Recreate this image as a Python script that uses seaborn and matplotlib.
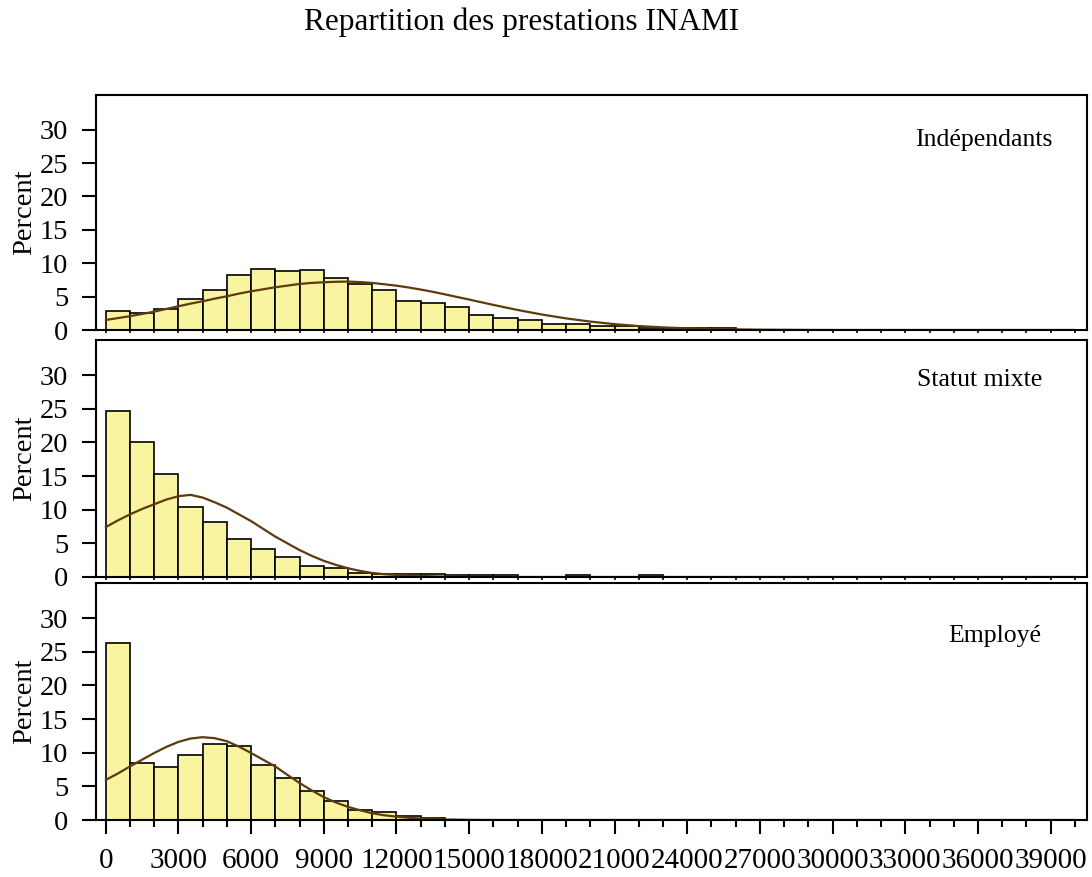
import numpy as np
import matplotlib
matplotlib.use("Agg")
import matplotlib.pyplot as plt
import seaborn as sns

# ---------------- data (percent per 1000-wide class, classes 0..39000) ----------------
bin_edges = list(range(0, 41000, 1000))

independants_pct = [2.8, 2.5, 3.1, 4.7, 5.95, 8.2, 9.1, 8.8, 9.05, 7.8,
                    6.9, 5.95, 4.4, 4.1, 3.4, 2.2, 1.85, 1.5, 0.95, 0.85,
                    0.55, 0.55, 0.3, 0.3, 0.35, 0.35, 0.05, 0.03, 0.02, 0.02,
                    0.01, 0.01, 0, 0, 0, 0, 0, 0, 0, 0.01]

mixte_pct = [24.7, 20.05, 15.35, 10.4, 8.15, 5.7, 4.2, 2.9, 1.7, 1.35,
             0.65, 0.45, 0.4, 0.4, 0.3, 0.3, 0.3, 0.05, 0.02, 0.35,
             0.05, 0.05, 0.35, 0.05, 0.02, 0.05, 0.05, 0.02, 0.02, 0.05,
             0.05, 0, 0, 0, 0, 0, 0, 0, 0, 0]

employe_pct = [26.35, 8.45, 7.8, 9.7, 11.3, 11.0, 8.1, 6.2, 4.35, 2.75,
               1.5, 1.25, 0.6, 0.35, 0.05, 0.02, 0.02, 0.05, 0.02, 0.05,
               0.05, 0.05, 0.02, 0.02, 0.02, 0.02, 0.02, 0.02, 0.02, 0.05,
               0, 0, 0, 0, 0, 0, 0, 0, 0, 0]

# fitted normal curves (every 500 up to 16000, then every 1000)
curve_x = list(range(0, 16500, 500)) + list(range(17000, 41000, 1000))
independants_curve = [1.5, 1.78, 2.07, 2.4, 2.75, 3.15, 3.55, 3.95, 4.3, 4.7,
                      5.05, 5.45, 5.8, 6.1, 6.4, 6.65, 6.9, 7.05, 7.15, 7.22,
                      7.25, 7.18, 7.05, 6.85, 6.64, 6.37, 6.06, 5.72, 5.34, 4.95,
                      4.56, 4.16, 3.76,
                      3.0, 2.32, 1.74, 1.26, 0.88, 0.59, 0.39, 0.25, 0.15, 0.09,
                      0.05, 0.03, 0.01,
                      0, 0, 0, 0, 0, 0, 0, 0, 0, 0, 0]
mixte_curve = [7.4, 8.4, 9.3, 10.1, 10.8, 11.5, 12.0, 12.2, 11.8, 11.1,
               10.3, 9.3, 8.3, 7.15, 6.0, 5.0, 4.0, 3.15, 2.4, 1.8,
               1.3, 0.9, 0.6, 0.42, 0.3, 0.22, 0.15, 0.1, 0.05, 0.03,
               0.02, 0.01, 0,
               0, 0, 0, 0, 0, 0, 0, 0, 0, 0, 0, 0, 0,
               0, 0, 0, 0, 0, 0, 0, 0, 0, 0, 0]
employe_curve = [5.95, 6.9, 7.95, 8.95, 9.95, 10.85, 11.6, 12.1, 12.3, 12.15,
                 11.7, 10.9, 9.95, 8.95, 7.95, 6.7, 5.5, 4.4, 3.4, 2.6,
                 1.95, 1.45, 1.0, 0.7, 0.5, 0.33, 0.22, 0.14, 0.08, 0.05,
                 0.02, 0.01, 0,
                 0, 0, 0, 0, 0, 0, 0, 0, 0, 0, 0, 0, 0,
                 0, 0, 0, 0, 0, 0, 0, 0, 0, 0, 0]

panel_names = ["Indépendants", "Statut mixte", "Employé"]
y_ticks = [0, 5, 10, 15, 20, 25, 30]
x_major_ticks = list(range(0, 40000, 3000))
x_tick_labels = [str(v) for v in x_major_ticks]

title = "Repartition des prestations INAMI"

# ---------------- style ----------------
sns.set_style("ticks")
plt.rcParams['font.family'] = ['Liberation Serif', 'DejaVu Serif']
plt.rcParams['text.color'] = 'black'
plt.rcParams['axes.labelcolor'] = 'black'
plt.rcParams['xtick.color'] = 'black'
plt.rcParams['ytick.color'] = 'black'
BAR_COLOR = "#F8F4A0"
CURVE_COLOR = "#5E3B0C"

fig = plt.figure(figsize=(10.92, 8.77), dpi=100)

W, H = 1092, 877
left_px, right_px = 96, 1087
panels_px = [(95, 330), (340, 577), (583, 820)]
label_pos = [(0.965, 0.81), (0.955, 0.83), (0.954, 0.776)]

mids = [(a + b) / 2 for a, b in zip(bin_edges[:-1], bin_edges[1:])]
series = [(independants_pct, independants_curve),
          (mixte_pct, mixte_curve),
          (employe_pct, employe_curve)]

axes = []
for i, ((top, bot), (pct, curve), name) in enumerate(zip(panels_px, series, panel_names)):
    ax = fig.add_axes([left_px / W, 1 - bot / H, (right_px - left_px) / W, (bot - top) / H])
    axes.append(ax)
    sns.histplot(x=mids, weights=pct, bins=bin_edges, ax=ax, color=BAR_COLOR,
                 edgecolor="black", linewidth=1.2, alpha=1.0)
    sns.lineplot(x=curve_x, y=curve, ax=ax, color=CURVE_COLOR, linewidth=1.6)
    ax.set_xlim(-400, 40500)
    ax.set_ylim(0, 35.2)
    ax.set_yticks(y_ticks)
    ax.set_yticklabels([str(v) for v in y_ticks], fontsize=20.5)
    ax.set_ylabel("Percent", fontsize=20.5, labelpad=2)
    ax.set_xlabel("")
    for s in ax.spines.values():
        s.set_linewidth(1.5)
        s.set_color("black")
    ax.tick_params(axis="y", length=10, width=1.5, pad=10, direction="out")
    ax.set_xticks(list(range(0, 41000, 1000)), minor=True)
    ax.set_xticks(x_major_ticks)
    if i < 2:
        ax.set_xticklabels([])
        ax.tick_params(axis="x", which="both", length=2.5, width=1.2, direction="out")
    else:
        ax.set_xticklabels(x_tick_labels, fontsize=21)
        ax.tick_params(axis="x", which="major", length=10, width=1.5, pad=10, direction="out")
        ax.tick_params(axis="x", which="minor", length=5, width=1.5, direction="out")
    ax.text(label_pos[i][0], label_pos[i][1], name, transform=ax.transAxes,
            ha="right", va="center", fontsize=18.5)

fig.text(0.478, 0.975, title, ha="center", va="center", fontsize=22.5)

fig.savefig("out.png", dpi=100)
